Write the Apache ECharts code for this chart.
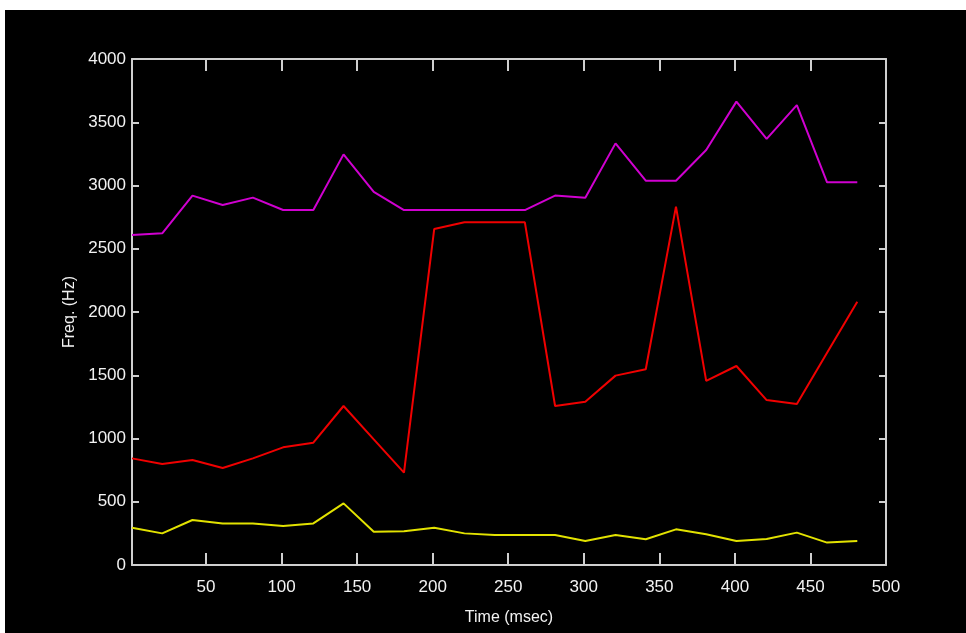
<!DOCTYPE html>
<html>
<head>
<meta charset="utf-8">
<script src="https://cdn.jsdelivr.net/npm/echarts@6/dist/echarts.min.js"></script>
<style>
  html, body { margin: 0; padding: 0; background: #ffffff; width: 966px; height: 633px; overflow: hidden; }
  #chart { position: absolute; left: 5px; top: 10px; width: 961px; height: 623px; background: #000000; }
</style>
</head>
<body>
<div id="chart"></div>
<script>
// Formant tracks: sample times (msec) and frequencies (Hz)
const timeMs = [1, 21, 41, 61, 81, 101, 121, 141, 161, 181, 201, 221, 241, 261, 281, 301, 321, 341, 361, 381, 401, 421, 441, 461, 481];
const formant1 = [295, 250, 356, 329, 329, 308, 329, 487, 263, 266, 295, 250, 237, 237, 237, 190, 237, 203, 282, 243, 190, 206, 256, 177, 190];
const formant2 = [843, 798, 830, 767, 843, 930, 967, 1257, 993, 730, 2656, 2709, 2709, 2709, 1257, 1291, 1497, 1547, 2833, 1455, 1573, 1304, 1273, 1678, 2081];
const formant3 = [2609, 2622, 2920, 2846, 2904, 2806, 2806, 3246, 2950, 2806, 2806, 2806, 2806, 2806, 2920, 2904, 3333, 3038, 3038, 3281, 3663, 3368, 3636, 3025, 3025];
const xTicks = [50, 100, 150, 200, 250, 300, 350, 400, 450, 500];

const chart = echarts.init(document.getElementById('chart'), null, { renderer: 'canvas' });

const axisColor = '#cfcfcf';
const textColor = '#f2f2f2';
const font = "'Liberation Sans', Arial, sans-serif";

function pairs(ys) {
  return timeMs.map((t, i) => [t, ys[i]]);
}

function lineSeries(ys, color) {
  return {
    type: 'line',
    data: pairs(ys),
    showSymbol: false,
    symbol: 'none',
    lineStyle: { color: color, width: 2 },
    animation: false,
    z: 3
  };
}

const xCommon = {
  type: 'value',
  min: 1,
  max: 500,
  splitLine: { show: false },
  axisLine: { show: true, onZero: false, lineStyle: { color: axisColor, width: 2 } },
  axisTick: { show: true, inside: true, length: 12, customValues: xTicks, lineStyle: { color: axisColor, width: 2 } }
};

const yCommon = {
  type: 'value',
  min: 0,
  max: 4000,
  interval: 500,
  splitLine: { show: false },
  axisLine: { show: true, onZero: false, lineStyle: { color: axisColor, width: 2 } },
  axisTick: { show: true, inside: true, length: 7, lineStyle: { color: axisColor, width: 2 } }
};

chart.setOption({
  backgroundColor: '#000000',
  animation: false,
  grid: { left: 127, right: 80, top: 49, bottom: 68, containLabel: false },
  xAxis: [
    Object.assign({}, xCommon, {
      position: 'bottom',
      name: 'Time (msec)',
      nameLocation: 'middle',
      nameGap: 45,
      nameTextStyle: { color: textColor, fontSize: 16, fontFamily: font },
      axisLabel: {
        show: true, customValues: xTicks, color: textColor, fontSize: 17, fontFamily: font, margin: 14,
        formatter: v => String(v)
      }
    }),
    Object.assign({}, xCommon, {
      position: 'top',
      axisLabel: { show: false }
    })
  ],
  yAxis: [
    Object.assign({}, yCommon, {
      position: 'left',
      name: 'Freq. (Hz)',
      nameLocation: 'middle',
      nameGap: 40,
      nameRotate: 90,
      nameTextStyle: { color: textColor, fontSize: 16, fontFamily: font },
      axisLabel: {
        show: true, color: textColor, fontSize: 17, fontFamily: font, margin: 6,
        formatter: v => String(v)
      }
    }),
    Object.assign({}, yCommon, {
      position: 'right',
      axisLabel: { show: false }
    })
  ],
  series: [
    lineSeries(formant1, '#e2e200'),
    lineSeries(formant2, '#f00000'),
    lineSeries(formant3, '#d000d0')
  ]
});
</script>
</body>
</html>
